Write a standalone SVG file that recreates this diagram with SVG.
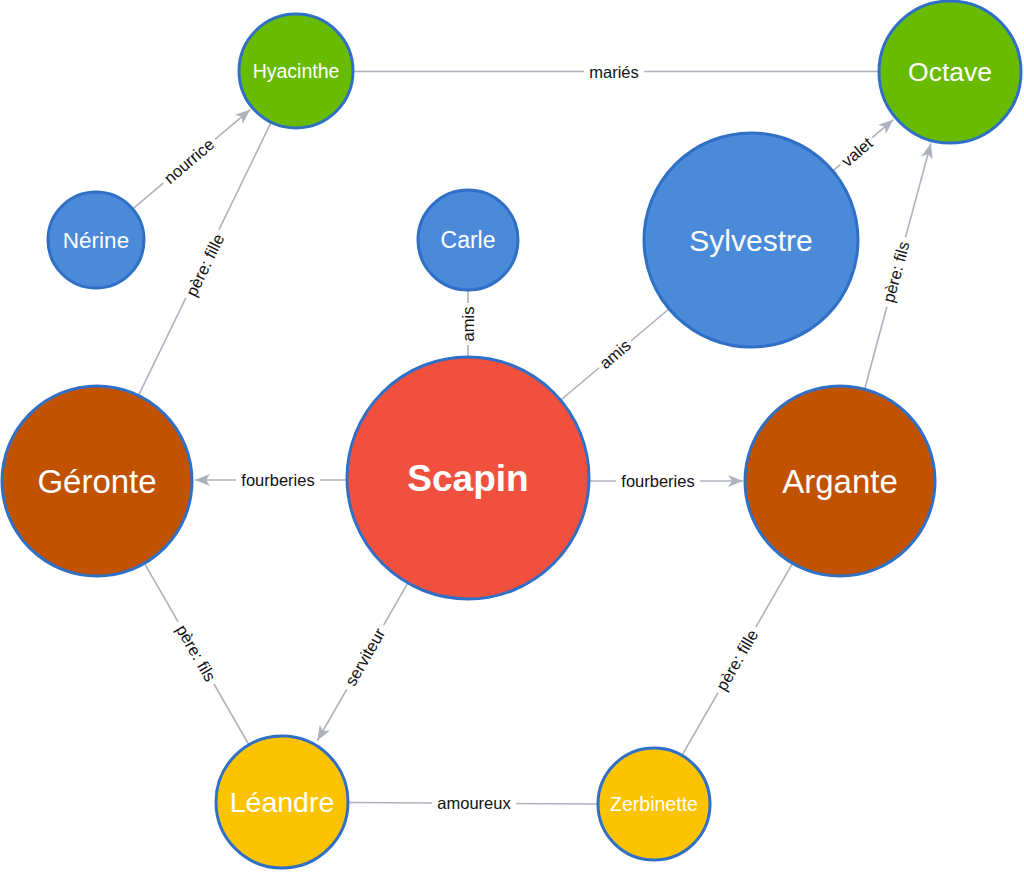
<svg xmlns="http://www.w3.org/2000/svg" width="1024" height="872" viewBox="0 0 1024 872">
<style>
.edge{stroke:#aeb2bc;stroke-width:1.6;fill:none}
.lbl{font-family:"Liberation Sans",Arial,sans-serif;font-size:16.5px;fill:#111;text-anchor:middle}
.bg{fill:#fff}
.node circle{stroke:#2f6fc6;stroke-width:3}
.node text{font-family:"Liberation Sans",Arial,sans-serif;fill:#fff;text-anchor:middle}
.blue{fill:#4a8ad9}
.green{fill:#68bb00}
.red{fill:#f2503e}
.brown{fill:#c15200}
.yellow{fill:#fcc400}
</style>
<defs>
<marker id="arr" markerUnits="userSpaceOnUse" markerWidth="16" markerHeight="12" refX="15" refY="6" orient="auto">
<path d="M0,0 L15,6 L0,12 L4,6 Z" fill="#aeb2bc"/>
</marker>
</defs>
<rect width="1024" height="872" fill="#fff"/>
<g id="connectors">
<line class="edge" x1="354" y1="71.5" x2="878" y2="71.5"/>
<g transform="translate(614,72)"><rect class="bg" x="-30" y="-11" width="60" height="22"/><text class="lbl" dy=".35em">mariés</text></g>

<line class="edge" x1="133.4" y1="208.4" x2="250.2" y2="109.7" marker-end="url(#arr)"/>
<g transform="translate(189,161) rotate(-40.2)"><rect class="bg" x="-34" y="-11" width="68" height="22"/><text class="lbl" dy=".35em">nourrice</text></g>

<line class="edge" x1="138.9" y1="394.6" x2="270.7" y2="123.2"/>
<g transform="translate(205,265) rotate(-64.1)"><rect class="bg" x="-38" y="-11" width="76" height="22"/><text class="lbl" dy=".35em">père: fille</text></g>

<line class="edge" x1="468" y1="291" x2="468" y2="356"/>
<g transform="translate(468,324) rotate(-90)"><rect class="bg" x="-21" y="-11" width="42" height="22"/><text class="lbl" dy=".35em">amis</text></g>

<line class="edge" x1="561.4" y1="399.5" x2="668.3" y2="309.5"/>
<g transform="translate(615,354) rotate(-40.1)"><rect class="bg" x="-21" y="-11" width="42" height="22"/><text class="lbl" dy=".35em">amis</text></g>

<line class="edge" x1="833.5" y1="170.3" x2="893.4" y2="119.7" marker-end="url(#arr)"/>
<g transform="translate(857,152) rotate(-40.2)"><rect class="bg" x="-21" y="-11" width="42" height="22"/><text class="lbl" dy=".35em">valet</text></g>

<line class="edge" x1="864.9" y1="388.3" x2="930.8" y2="143.5" marker-end="url(#arr)"/>
<g transform="translate(896,272) rotate(-74.9)"><rect class="bg" x="-36" y="-11" width="72" height="22"/><text class="lbl" dy=".35em">père: fils</text></g>

<line class="edge" x1="346" y1="480" x2="195" y2="480" marker-end="url(#arr)"/>
<g transform="translate(278,480)"><rect class="bg" x="-42" y="-11" width="84" height="22"/><text class="lbl" dy=".35em">fourberies</text></g>

<line class="edge" x1="590" y1="481" x2="743" y2="481" marker-end="url(#arr)"/>
<g transform="translate(658,481)"><rect class="bg" x="-42" y="-11" width="84" height="22"/><text class="lbl" dy=".35em">fourberies</text></g>

<line class="edge" x1="144.9" y1="564.2" x2="248.5" y2="744"/>
<g transform="translate(196,653) rotate(60)"><rect class="bg" x="-36" y="-11" width="72" height="22"/><text class="lbl" dy=".35em">père: fils</text></g>

<line class="edge" x1="407.3" y1="583.8" x2="317.4" y2="740.5" marker-end="url(#arr)"/>
<g transform="translate(365,657) rotate(-60.1)"><rect class="bg" x="-37" y="-11" width="74" height="22"/><text class="lbl" dy=".35em">serviteur</text></g>

<line class="edge" x1="792.1" y1="564.2" x2="682.4" y2="754.6"/>
<g transform="translate(737,660) rotate(-60.1)"><rect class="bg" x="-38" y="-11" width="76" height="22"/><text class="lbl" dy=".35em">père: fille</text></g>

<line class="edge" x1="349" y1="802.5" x2="597" y2="804"/>
<g transform="translate(474,803)"><rect class="bg" x="-42" y="-11" width="84" height="22"/><text class="lbl" dy=".35em">amoureux</text></g>
</g>

<g id="node-hyacinthe" class="node"><circle class="green" cx="296" cy="71" r="57"/><text x="296" y="71" dy=".35em" font-size="19.5">Hyacinthe</text></g>
<g id="node-octave" class="node"><circle class="green" cx="950" cy="72" r="71"/><text x="950" y="72" dy=".35em" font-size="26.5">Octave</text></g>
<g id="node-nerine" class="node"><circle class="blue" cx="96" cy="240" r="48"/><text x="96" y="240" dy=".35em" font-size="22.5">Nérine</text></g>
<g id="node-carle" class="node"><circle class="blue" cx="468" cy="240" r="50"/><text x="468" y="240" dy=".35em" font-size="23">Carle</text></g>
<g id="node-sylvestre" class="node"><circle class="blue" cx="751" cy="240" r="107"/><text x="751" y="240" dy=".35em" font-size="30">Sylvestre</text></g>
<g id="node-geronte" class="node"><circle class="brown" cx="97" cy="481" r="95"/><text x="97" y="481" dy=".35em" font-size="33">Géronte</text></g>
<g id="node-scapin" class="node"><circle class="red" cx="468" cy="478" r="121"/><text x="468" y="478" dy=".35em" font-size="37" font-weight="bold">Scapin</text></g>
<g id="node-argante" class="node"><circle class="brown" cx="840" cy="481" r="95"/><text x="840" y="481" dy=".35em" font-size="33">Argante</text></g>
<g id="node-leandre" class="node"><circle class="yellow" cx="282" cy="802" r="66"/><text x="282" y="802" dy=".35em" font-size="28.5">Léandre</text></g>
<g id="node-zerbinette" class="node"><circle class="yellow" cx="654" cy="804" r="56"/><text x="654" y="804" dy=".35em" font-size="19.5">Zerbinette</text></g>
</svg>
